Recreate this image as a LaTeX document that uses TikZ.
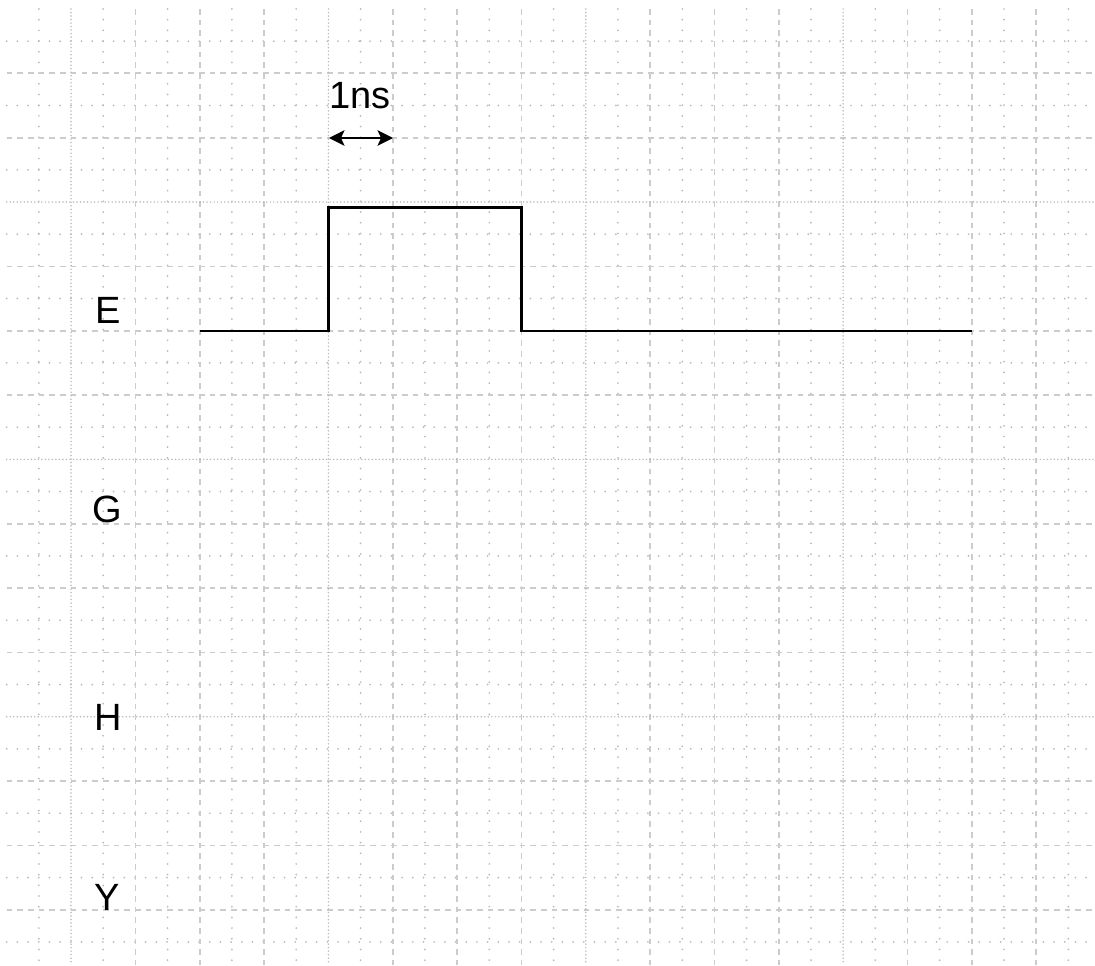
\documentclass[tikz,border=0pt]{standalone}
\usepackage{fontspec}
\setmainfont{Liberation Sans}
\usetikzlibrary{arrows.meta}
\begin{document}
\begin{tikzpicture}[x=0.025cm,y=-0.025cm,
    majorline/.style={gray!40,line width=1.2pt,dash pattern=on 4pt off 3.6pt},
    minorline/.style={gray!55,line width=1.4pt,line cap=round,dash pattern=on 0pt off 7.6pt},
    denseline/.style={gray!55,line width=1.2pt,line cap=round,dash pattern=on 0pt off 2.5pt},
    lbl/.style={anchor=base,inner sep=0pt,font=\fontsize{27}{32}\selectfont},
    wave/.style={line width=1.6pt},
    span/.style={line width=1.4pt,>={Stealth[length=11pt,width=11pt,inset=2.5pt]},<->}]
      \useasboundingbox (0,0) rectangle (1095,965);
      % 网格（点线）
      \foreach \k in {1,3,...,33}
      \draw[minorline] ({6.7+\k*32.17},9) -- ({6.7+\k*32.17},965);
      \foreach \k in {1,3,...,29}
      \draw[minorline] (6.7,{9+\k*32.17}) -- (1095,{9+\k*32.17});
      % 网格（虚线）
      \foreach \k in {4,6,8,12,14,16,20,22,24,28,30,32}
      \draw[majorline] ({6.7+\k*32.17},9) -- ({6.7+\k*32.17},965);
      \foreach \k in {2,4,8,10,12,16,18,20,24,26,28}
      \draw[majorline] (6.7,{9+\k*32.17}) -- (1095,{9+\k*32.17});
      % 网格（密点线）
      \foreach \k in {2,10,18,26}
      \draw[denseline] ({6.7+\k*32.17},9) -- ({6.7+\k*32.17},965);
      \foreach \k in {6,14,22}
      \draw[denseline] (6.7,{9+\k*32.17}) -- (1095,{9+\k*32.17});
      % 信号名
      \node[lbl] (lblE) at (108,323) {E};
      \node[lbl] (lblG) at (107,522) {G};
      \node[lbl] (lblH) at (108,730) {H};
      \node[lbl] (lblY) at (107,910) {Y};
      % E 的脉冲
      \coordinate (w0) at (199.7,330.7);
      \coordinate (w1) at (328.4,330.7);
      \coordinate (w2) at (328.4,207.5);
      \coordinate (w3) at (521.4,207.5);
      \coordinate (w4) at (521.4,330.7);
      \coordinate (w5) at (971.8,330.7);
      \draw[wave] (w0) -- (w1) -- (w2) -- (w3) -- (w4) -- (w5);
      % 时间刻度
      \coordinate (t0) at (329,138);
      \coordinate (t1) at (393,138);
      \draw[span] (t0) -- (t1);
      \node[lbl] (lblNs) at (360,109) {1ns};
    \end{tikzpicture}
\end{document}
